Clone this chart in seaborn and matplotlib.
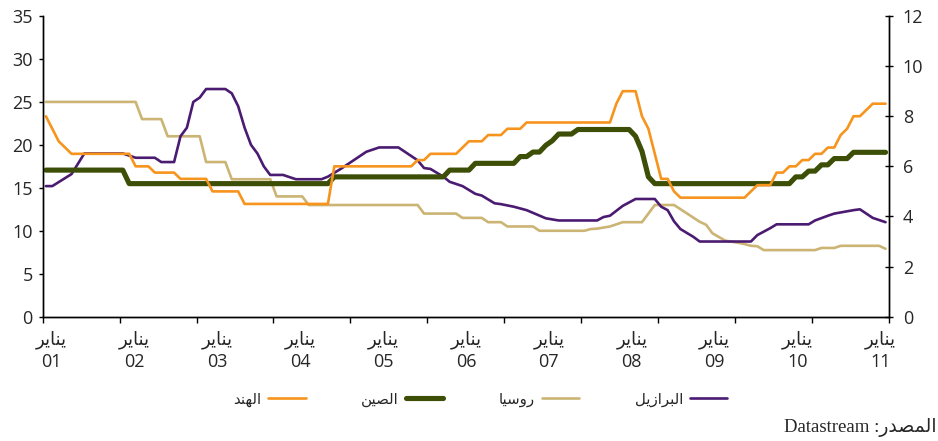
import numpy as np
import pandas as pd
import matplotlib.pyplot as plt
import seaborn as sns

# month index, 0 = January 2001
brazil_month = [0, 1, 4, 5, 6, 12, 14, 17, 18, 20, 21, 22, 23, 24, 25, 28, 29, 30, 31, 32,
                33, 34, 35, 37, 39, 43, 44, 46, 48, 50, 52, 55, 56, 58, 59, 60, 62, 63, 65, 67,
                68, 70, 71, 73, 75, 78, 80, 86, 87, 88, 90, 92, 95, 96, 97, 98, 99, 101, 102, 110,
                111, 113, 114, 119, 120, 122, 123, 126, 127, 129, 131]
brazil_rate = [15.2, 15.2, 16.6, 17.8, 19.0, 19.0, 18.5, 18.5, 18.0, 18.0, 21.0, 22.0, 25.0, 25.5, 26.5, 26.5, 26.0, 24.5, 22.0, 20.0,
               19.0, 17.5, 16.5, 16.5, 16.0, 16.0, 16.3, 17.2, 18.2, 19.2, 19.7, 19.7, 19.2, 18.2, 17.3, 17.2, 16.3, 15.7, 15.2, 14.3,
               14.1, 13.2, 13.1, 12.8, 12.4, 11.45, 11.2, 11.2, 11.6, 11.75, 12.9, 13.7, 13.7, 12.8, 12.4, 11.1, 10.2, 9.3, 8.75, 8.75,
               9.5, 10.3, 10.75, 10.75, 11.2, 11.75, 12.0, 12.4, 12.5, 11.5, 11.0]

russia_month = [0, 14, 15, 18, 19, 24, 25, 28, 29, 35, 36, 40, 41, 58, 59, 64, 65, 68, 69, 71,
                72, 76, 77, 84, 85, 86, 88, 90, 93, 95, 98, 102, 103, 104, 106, 108, 109, 110, 111, 112,
                120, 121, 123, 124, 130, 131]
russia_rate = [25, 25, 23, 23, 21, 21, 18, 18, 16, 16, 14, 14, 13, 13, 12, 12, 11.5, 11.5, 11, 11,
               10.5, 10.5, 10, 10, 10.2, 10.25, 10.5, 11, 11, 13, 13, 11.05, 10.7, 9.7, 8.85, 8.6, 8.45, 8.25, 8.2, 7.75,
               7.75, 8.0, 8.0, 8.25, 8.25, 7.9]

china_month = [0, 12, 13, 44, 45, 62, 63, 66, 67, 73, 74, 75, 76, 77, 78, 79, 80, 82, 83, 91,
               92, 93, 94, 95, 116, 117, 118, 119, 120, 121, 122, 123, 125, 126, 131]
china_rate = [5.85, 5.85, 5.31, 5.31, 5.58, 5.58, 5.85, 5.85, 6.12, 6.12, 6.39, 6.39, 6.57, 6.57, 6.84, 7.02, 7.29, 7.29, 7.47, 7.47,
              7.2, 6.6, 5.58, 5.31, 5.31, 5.58, 5.58, 5.81, 5.81, 6.06, 6.06, 6.31, 6.31, 6.56, 6.56]

india_month = [0, 2, 4, 13, 14, 16, 17, 20, 21, 25, 26, 30, 31, 44, 45, 57, 58, 59, 60, 64,
               65, 66, 68, 69, 71, 72, 74, 75, 88, 89, 90, 92, 93, 94, 96, 97, 98, 99, 109, 111,
               113, 114, 115, 116, 117, 118, 119, 120, 121, 122, 123, 124, 125, 126, 127, 129, 131]
india_rate = [8.0, 7.0, 6.5, 6.5, 6.0, 6.0, 5.75, 5.75, 5.5, 5.5, 5.0, 5.0, 4.5, 4.5, 6.0, 6.0, 6.25, 6.25, 6.5, 6.5,
              6.75, 7.0, 7.0, 7.25, 7.25, 7.5, 7.5, 7.75, 7.75, 8.5, 9.0, 9.0, 8.0, 7.5, 5.5, 5.5, 5.0, 4.75, 4.75, 5.25,
              5.25, 5.75, 5.75, 6.0, 6.0, 6.25, 6.25, 6.5, 6.5, 6.75, 6.75, 7.25, 7.5, 8.0, 8.0, 8.5, 8.5]

year_labels = ["01", "02", "03", "04", "05", "06", "07", "08", "09", "10", "11"]
month_word = "يناير"
names = {"india": "الهند", "china": "الصين", "russia": "روسيا", "brazil": "البرازيل"}
source_word = "المصدر"

# matplotlib has no Arabic shaping, so pick the contextual forms by hand
FORMS = {  # isolated, final, initial, medial
    "ا": ("\uFE8D", "\uFE8E", None, None),
    "ب": ("\uFE8F", "\uFE90", "\uFE91", "\uFE92"),
    "د": ("\uFEA9", "\uFEAA", None, None),
    "ر": ("\uFEAD", "\uFEAE", None, None),
    "ز": ("\uFEAF", "\uFEB0", None, None),
    "س": ("\uFEB1", "\uFEB2", "\uFEB3", "\uFEB4"),
    "ص": ("\uFEB9", "\uFEBA", "\uFEBB", "\uFEBC"),
    "ل": ("\uFEDD", "\uFEDE", "\uFEDF", "\uFEE0"),
    "م": ("\uFEE1", "\uFEE2", "\uFEE3", "\uFEE4"),
    "ن": ("\uFEE5", "\uFEE6", "\uFEE7", "\uFEE8"),
    "ه": ("\uFEE9", "\uFEEA", "\uFEEB", "\uFEEC"),
    "و": ("\uFEED", "\uFEEE", None, None),
    "ي": ("\uFEF1", "\uFEF2", "\uFEF3", "\uFEF4"),
}


def shape(word):
    out = []
    for i, ch in enumerate(word):
        if ch not in FORMS:
            out.append(ch)
            continue
        prev = word[i - 1] if i > 0 else None
        nxt = word[i + 1] if i + 1 < len(word) else None
        join_prev = prev in FORMS and FORMS[prev][2] is not None
        join_next = FORMS[ch][2] is not None and nxt in FORMS
        iso, fin, ini, med = FORMS[ch]
        if join_prev and join_next:
            out.append(med)
        elif join_prev:
            out.append(fin)
        elif join_next:
            out.append(ini)
        else:
            out.append(iso)
    return "".join(reversed(out))


sns.set_style("white")
plt.rcParams["font.family"] = ["Open Sans", "DejaVu Sans"]

colors = {"india": "#F7941D", "china": "#3D4E06", "russia": "#CBB474", "brazil": "#4B1B71"}

fig = plt.figure(figsize=(9.38, 4.41), dpi=100)
ax = fig.add_axes([0.0455, 0.2819, 0.902, 0.6818])
ax2 = ax.twinx()

sns.lineplot(x=russia_month, y=russia_rate, ax=ax, color=colors["russia"], linewidth=1.9,
             estimator=None, label=shape(names["russia"]), legend=False)
sns.lineplot(x=brazil_month, y=brazil_rate, ax=ax, color=colors["brazil"], linewidth=1.9,
             estimator=None, label=shape(names["brazil"]), legend=False)
sns.lineplot(x=china_month, y=china_rate, ax=ax2, color=colors["china"], linewidth=3.7,
             estimator=None, label=shape(names["china"]), legend=False)
sns.lineplot(x=india_month, y=india_rate, ax=ax2, color=colors["india"], linewidth=1.9,
             estimator=None, label=shape(names["india"]), legend=False)

ax.set_xlim(-0.5, 131.5)
ax.set_ylim(0, 35)
ax2.set_ylim(0, 12)
ax.set_yticks(np.arange(0, 36, 5))
ax2.set_yticks(np.arange(0, 13, 2))
ax.set_xticks(np.arange(-0.5, 132, 12))
ax.set_xticklabels([])
label_pos = 0.9 + 12.93 * np.arange(len(year_labels))
ax.set_xticks(label_pos, [shape(month_word) + "\n" + y for y in year_labels], minor=True)
for t in ax.get_xticklabels(minor=True):
    t.set_linespacing(1.25)
ax.set_xlabel("")
ax.set_ylabel("")
ax2.set_ylabel("")

ax.tick_params(axis="x", which="major", direction="out", length=4.5, width=1, color="black", bottom=True)
ax.tick_params(axis="x", which="minor", length=0, pad=10, labelsize=13, bottom=True)
ax.tick_params(axis="y", direction="out", length=3.2, width=1, color="black", pad=4, labelsize=13, left=True)
ax2.tick_params(axis="y", direction="inout", length=6, width=1, color="black", pad=7, labelsize=13, right=True)

for a in (ax, ax2):
    a.spines["top"].set_visible(False)
    for s in ("left", "right", "bottom"):
        a.spines[s].set_color("black")
        a.spines[s].set_linewidth(1)

handles = ax2.lines[1:2] + ax2.lines[0:1] + ax.lines[0:1] + ax.lines[1:2]
labels = [shape(names[k]) for k in ("india", "china", "russia", "brazil")]
fig.legend(handles, labels, loc="center", bbox_to_anchor=(0.512, 0.095), ncol=4, frameon=False,
           markerfirst=False, handlelength=2.5, handletextpad=0.45, columnspacing=3.7,
           prop={"family": ["DejaVu Sans"], "size": 10.8})

fig.text(0.998, 0.02, "Datastream :" + shape(source_word), ha="right", va="baseline",
         fontsize=13.5, family=["Liberation Serif", "DejaVu Sans"])

fig.savefig("out.png", dpi=100, facecolor="white")
